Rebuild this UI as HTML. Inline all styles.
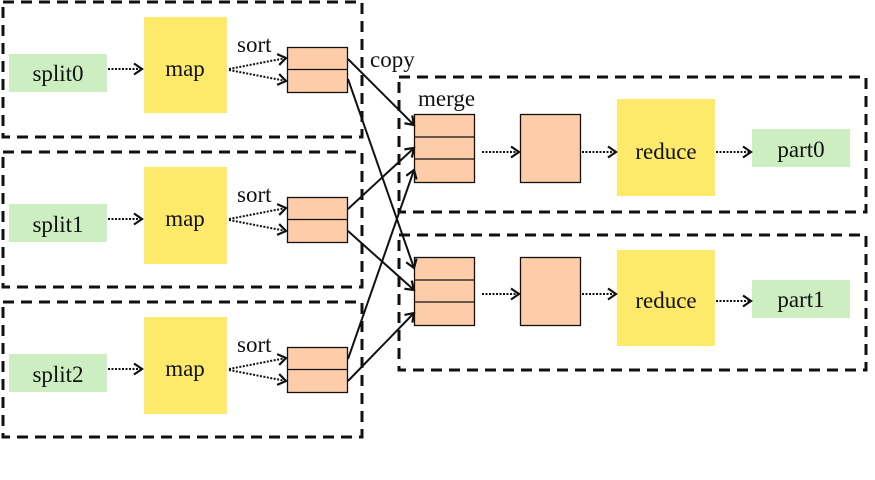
<!DOCTYPE html>
<html><head><style>body{margin:0;background:#fff}svg{display:block}text{font-family:"Liberation Serif",serif;font-size:23px;fill:#111}</style></head><body>
<svg width="875" height="480" viewBox="0 0 875 480">
<defs><marker id="a" markerWidth="12" markerHeight="14" refX="10" refY="7" orient="auto" markerUnits="userSpaceOnUse"><path d="M2,1.5 L10,7 L2,12.5" fill="none" stroke="#111" stroke-width="2.2"/></marker></defs>
<g fill="none" stroke="#111" stroke-width="3" stroke-dasharray="11,7">
<rect x="3" y="2" width="359" height="135"/><rect x="3" y="152" width="359" height="135"/><rect x="3" y="302" width="359" height="135"/>
<rect x="399" y="77" width="467" height="135"/><rect x="399" y="235" width="467" height="135"/>
</g>
<rect x="9" y="54" width="98" height="38" fill="#cdeec0"/><text x="58" y="81" text-anchor="middle">split0</text>
<rect x="144" y="17" width="83" height="96" fill="#fdea6b"/><text x="185" y="76" text-anchor="middle">map</text>
<rect x="287.5" y="47.5" width="60" height="45" fill="#fdcdaa" stroke="#111" stroke-width="1.3"/><line x1="287.5" y1="69.5" x2="347.5" y2="69.5" stroke="#111" stroke-width="1.3"/>
<text x="237" y="52">sort</text>
<g stroke="#111" stroke-width="2" stroke-dasharray="2,1.5" fill="none" marker-end="url(#a)">
<line x1="108" y1="69" x2="142" y2="69"/><line x1="229" y1="69" x2="286" y2="58"/><line x1="229" y1="70" x2="286" y2="81"/></g>
<rect x="9" y="204" width="98" height="38" fill="#cdeec0"/><text x="58" y="232" text-anchor="middle">split1</text>
<rect x="144" y="167" width="83" height="97" fill="#fdea6b"/><text x="185" y="226" text-anchor="middle">map</text>
<rect x="287.5" y="197.5" width="60" height="45" fill="#fdcdaa" stroke="#111" stroke-width="1.3"/><line x1="287.5" y1="219.5" x2="347.5" y2="219.5" stroke="#111" stroke-width="1.3"/>
<text x="237" y="202">sort</text>
<g stroke="#111" stroke-width="2" stroke-dasharray="2,1.5" fill="none" marker-end="url(#a)">
<line x1="108" y1="219" x2="142" y2="219"/><line x1="229" y1="219" x2="286" y2="208"/><line x1="229" y1="220" x2="286" y2="231"/></g>
<rect x="9" y="354" width="98" height="38" fill="#cdeec0"/><text x="58" y="382" text-anchor="middle">split2</text>
<rect x="144" y="317" width="83" height="97" fill="#fdea6b"/><text x="185" y="376" text-anchor="middle">map</text>
<rect x="287.5" y="347.5" width="60" height="45" fill="#fdcdaa" stroke="#111" stroke-width="1.3"/><line x1="287.5" y1="369.5" x2="347.5" y2="369.5" stroke="#111" stroke-width="1.3"/>
<text x="237" y="352">sort</text>
<g stroke="#111" stroke-width="2" stroke-dasharray="2,1.5" fill="none" marker-end="url(#a)">
<line x1="108" y1="369" x2="142" y2="369"/><line x1="229" y1="369" x2="286" y2="358"/><line x1="229" y1="370" x2="286" y2="381"/></g>
<text x="370" y="67">copy</text><text x="418" y="106">merge</text>
<g fill="#fdcdaa" stroke="#111" stroke-width="1.3">
<rect x="414.5" y="114.5" width="60" height="68"/><line x1="414.5" y1="137" x2="474.5" y2="137"/><line x1="414.5" y1="159" x2="474.5" y2="159"/>
<rect x="414.5" y="257.5" width="60" height="68"/><line x1="414.5" y1="280" x2="474.5" y2="280"/><line x1="414.5" y1="302" x2="474.5" y2="302"/>
<rect x="520.5" y="114.5" width="60" height="68"/><rect x="520.5" y="257.5" width="60" height="68"/>
</g>
<rect x="617" y="99" width="98" height="97" fill="#fdea6b"/><text x="666" y="159" text-anchor="middle">reduce</text>
<rect x="617" y="250" width="98" height="96" fill="#fdea6b"/><text x="666" y="308" text-anchor="middle">reduce</text>
<rect x="752" y="129" width="98" height="38" fill="#cdeec0"/><text x="801" y="157" text-anchor="middle">part0</text>
<rect x="752" y="280" width="98" height="38" fill="#cdeec0"/><text x="801" y="307" text-anchor="middle">part1</text>
<g stroke="#111" stroke-width="2" stroke-dasharray="2,1.5" fill="none" marker-end="url(#a)">
<line x1="482" y1="152" x2="519" y2="152"/><line x1="582" y1="152" x2="616" y2="152"/><line x1="716" y1="152" x2="751" y2="152"/>
<line x1="482" y1="294" x2="519" y2="294"/><line x1="582" y1="294" x2="616" y2="294"/><line x1="716" y1="301" x2="751" y2="301"/>
</g>
<g stroke="#111" stroke-width="2" fill="none" marker-end="url(#a)">
<line x1="348" y1="59" x2="414" y2="125"/><line x1="348" y1="79" x2="414" y2="268"/>
<line x1="348" y1="209" x2="414" y2="148"/><line x1="348" y1="231" x2="414" y2="290"/>
<line x1="348" y1="359" x2="414" y2="170"/><line x1="348" y1="381" x2="414" y2="313"/>
</g>
</svg>
</body></html>
